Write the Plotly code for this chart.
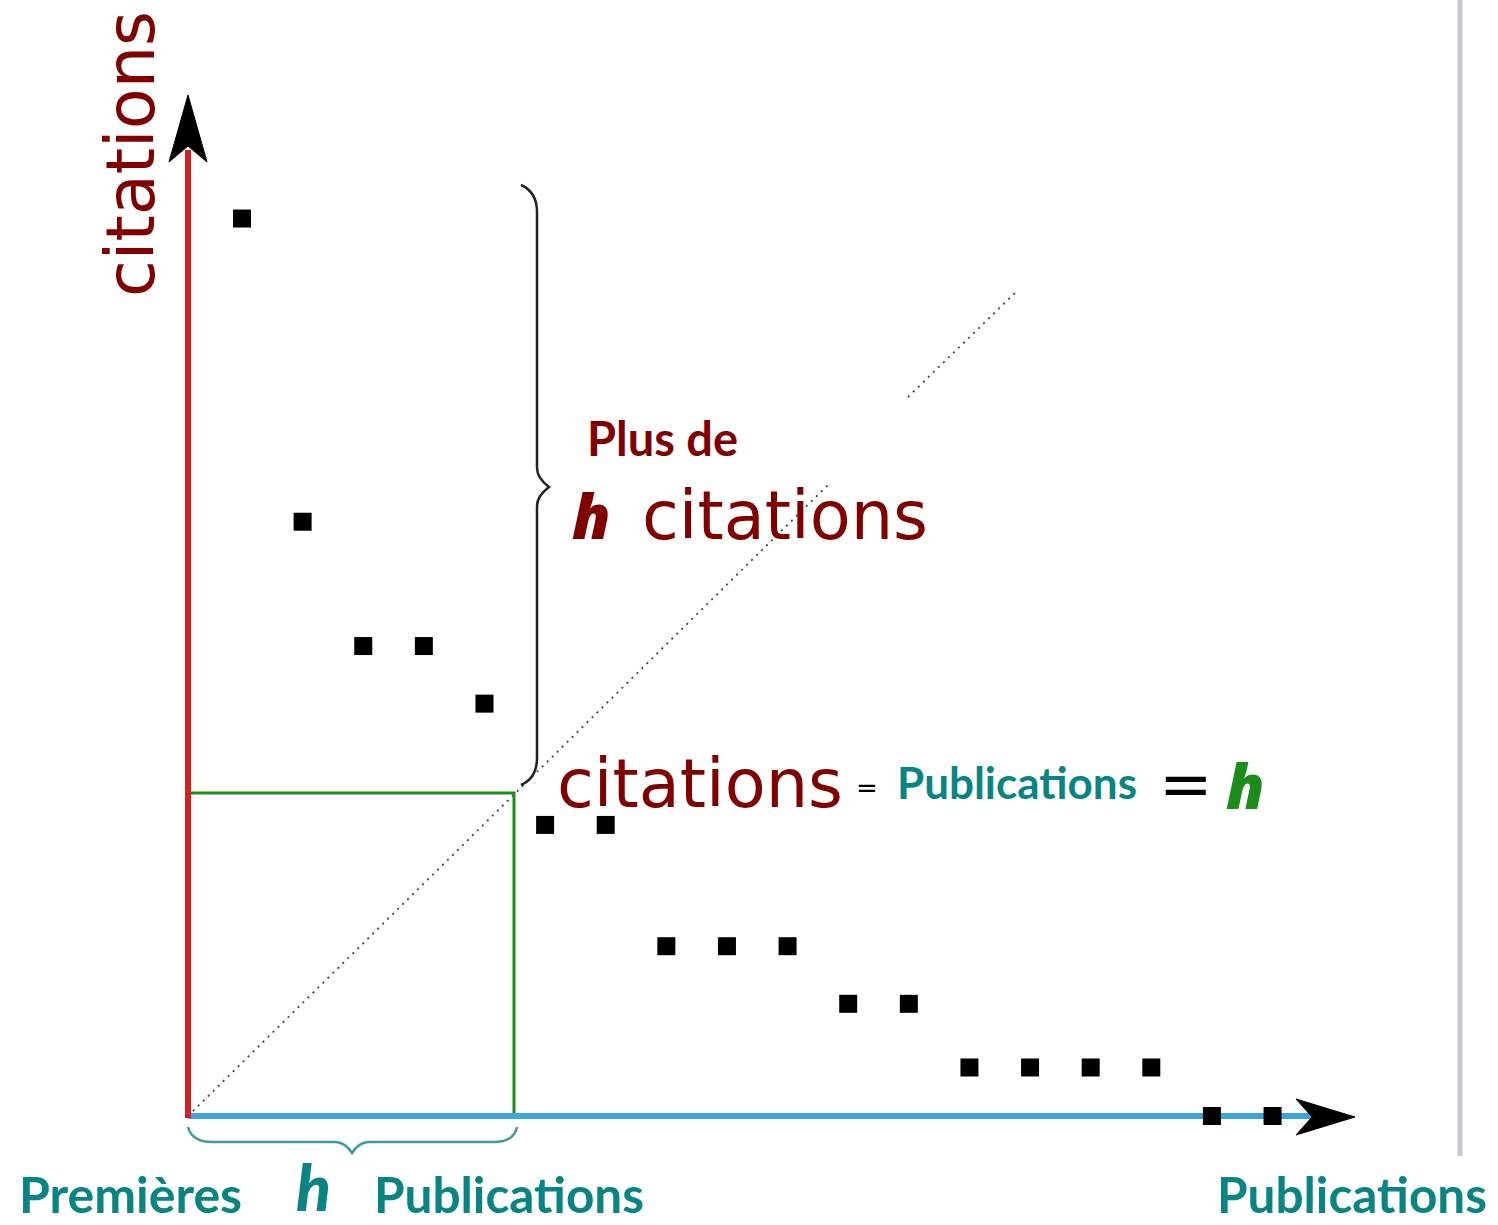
import plotly.graph_objects as go

# ---- data ----
pubs = list(range(1, 19))                      # publication rank
cites = [14.8, 9.8, 7.75, 7.75, 6.8, 4.8, 4.8, 2.8, 2.8, 2.8,
         1.85, 1.85, 0.8, 0.8, 0.8, 0.8, 0, 0]  # citations (axis units)

# ---- page-pixel helpers for decorations ----
PX0, UX = 242, 60.62
PY0, UY = 1116, 60.64
W, H = 1498, 1225


def X(px):
    return 1 + (px - PX0) / UX


def Y(py):
    return (PY0 - py) / UY


def path(points, close=False):
    s = "M " + " L ".join(f"{X(a):.4f},{Y(b):.4f}" for a, b in points)
    return s + (" Z" if close else "")


def qpath(cmds):
    out = []
    for c in cmds:
        op, pts = c[0], c[1:]
        out.append(op + " " + " ".join(f"{X(a):.4f},{Y(b):.4f}" for a, b in pts))
    return " ".join(out)


DARKRED = "#800000"
TEAL = "#088582"
GREEN = "#1c8c1c"

fig = go.Figure()
fig.add_trace(go.Scatter(
    x=pubs, y=cites, mode="markers",
    marker=dict(symbol="square", size=18, color="black", line=dict(width=0)),
    hoverinfo="skip", showlegend=False))

shapes = []
# right gray rule
shapes.append(dict(type="line", x0=X(1460), x1=X(1460), y0=Y(1156), y1=Y(-5),
                   line=dict(color="#c8cacf", width=5), layer="below"))
# dotted diagonal (two segments, gap behind the text)
shapes.append(dict(type="line", x0=X(188), y0=Y(1116), x1=X(830), y1=Y(483),
                   line=dict(color="#444444", width=1.8, dash="2px,5px"), layer="below"))
shapes.append(dict(type="line", x0=X(908), y0=Y(397), x1=X(1018), y1=Y(290),
                   line=dict(color="#444444", width=1.8, dash="2px,5px"), layer="below"))
# green h box
shapes.append(dict(type="rect", x0=X(188), x1=X(514), y0=Y(1116), y1=Y(793),
                   line=dict(color=GREEN, width=3), layer="below"))
# blue x axis
shapes.append(dict(type="line", x0=X(188), x1=X(1312), y0=0, y1=0,
                   line=dict(color="#3aa6d6", width=6), layer="below"))
# red y axis
shapes.append(dict(type="line", x0=X(188), x1=X(188), y0=Y(1118), y1=Y(150),
                   line=dict(color="#d42020", width=6), layer="below"))
# arrowheads
shapes.append(dict(type="path", path=path([(188, 95), (207, 162), (188, 146), (169, 162)], True),
                   fillcolor="black", line=dict(color="black", width=1), layer="below"))
shapes.append(dict(type="path", path=path([(1355, 1117), (1296, 1099), (1312, 1117), (1296, 1135)], True),
                   fillcolor="black", line=dict(color="black", width=1), layer="below"))
# right curly brace
shapes.append(dict(type="path", path=qpath([
    ("M", (521, 185)), ("Q", (537, 192), (537, 212)), ("L", (537, 468)),
    ("Q", (537, 478), (549, 487)), ("Q", (537, 496), (537, 506)), ("L", (537, 758)),
    ("Q", (537, 778), (521, 785))]),
    line=dict(color="#222222", width=2.5), layer="below"))
# bottom brace
shapes.append(dict(type="path", path=qpath([
    ("M", (188, 1127)), ("Q", (192, 1142), (212, 1142)), ("L", (336, 1142)),
    ("Q", (346, 1143), (352, 1153)), ("Q", (358, 1143), (368, 1142)), ("L", (494, 1142)),
    ("Q", (514, 1142), (517, 1127))]),
    line=dict(color="#3f9c99", width=2.5), layer="below"))

anns = []


def ann(text, px, py, size, color, family, xanchor="left", yanchor="middle", angle=0,
        weight=None, style=None):
    f = dict(size=size, color=color, family=family)
    if weight is not None:
        f["weight"] = weight
    if style is not None:
        f["style"] = style
    anns.append(dict(text=text, x=X(px), y=Y(py), xref="x", yref="y", showarrow=False,
                     xanchor=xanchor, yanchor=yanchor, textangle=angle,
                     font=f, borderpad=0))


DJ = "DejaVu Sans"
LT = "Lato"
OS = "Open Sans"
ann("citations", 131, 154, 67, DARKRED, DJ, xanchor="center", angle=-90)
ann("Plus de", 586, 438, 47, DARKRED, LT, weight=700)
ann("h", 571, 515, 62, DARKRED, OS, weight=800, style="italic")
ann("citations", 641, 516, 67, DARKRED, DJ)
ann("citations", 556, 784, 67, DARKRED, DJ)
ann("=", 867, 788, 26, "black", DJ, xanchor="center")
ann("Publications", 896, 782, 44, TEAL, LT, weight=700)
ann("=", 1186, 784, 64, "black", DJ, xanchor="center")
ann("h", 1225, 785, 62, GREEN, OS, weight=800, style="italic")
ann("Premières", 18, 1194, 50, TEAL, LT, weight=700)
ann("h", 295, 1186, 64, TEAL, LT, weight=900, style="italic")
ann("Publications", 373, 1194, 49.5, TEAL, LT, weight=700)
ann("Publications", 1216, 1194, 49.5, TEAL, LT, weight=700)

fig.update_layout(
    width=W, height=H, autosize=False,
    margin=dict(l=0, r=0, t=0, b=0, pad=0),
    paper_bgcolor="white", plot_bgcolor="white",
    xaxis=dict(range=[X(0), X(W)], visible=False, fixedrange=True),
    yaxis=dict(range=[Y(H), Y(0)], visible=False, fixedrange=True),
    shapes=shapes, annotations=anns, showlegend=False,
)

fig.write_html("out.html", config={"displayModeBar": False},
               post_script="document.body.style.margin='0';document.body.style.overflow='hidden';")
